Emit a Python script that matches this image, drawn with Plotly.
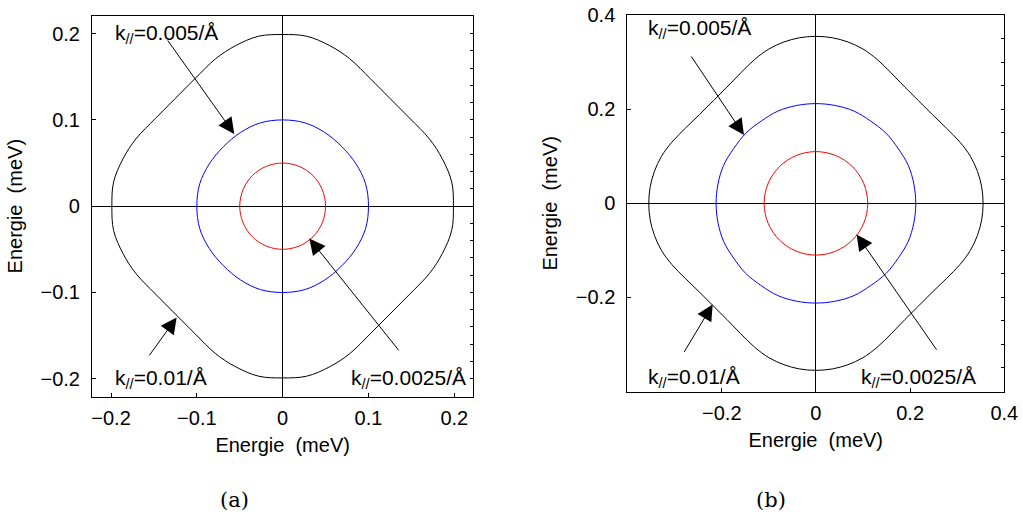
import plotly.graph_objects as go

# ---- data (meV) ----
# panel (a)
a_black_x = [-0.125,-0.148,-0.171,-0.186,-0.197,-0.199,-0.197,-0.186,-0.171,-0.148,-0.125,-0.102,-0.078,-0.055,-0.028,0,0.028,0.055,0.078,0.102,0.125,0.148,0.171,0.186,0.197,0.199,0.197,0.186,0.171,0.148,0.125,0.102,0.078,0.055,0.028,0,-0.028,-0.055,-0.078,-0.102,-0.125]
a_black_y = [0.125,0.102,0.078,0.055,0.028,0,-0.028,-0.055,-0.078,-0.102,-0.125,-0.148,-0.171,-0.186,-0.197,-0.199,-0.197,-0.186,-0.171,-0.148,-0.125,-0.102,-0.078,-0.055,-0.028,0,0.028,0.055,0.078,0.102,0.125,0.148,0.171,0.186,0.197,0.199,0.197,0.186,0.171,0.148,0.125]
a_blue_x = [-0.069,-0.0855,-0.0966,-0.1,-0.0966,-0.0855,-0.069,-0.049,-0.026,0,0.026,0.049,0.069,0.0855,0.0966,0.1,0.0966,0.0855,0.069,0.049,0.026,0,-0.026,-0.049,-0.069]
a_blue_y = [0.069,0.049,0.026,0,-0.026,-0.049,-0.069,-0.0855,-0.0966,-0.1,-0.0966,-0.0855,-0.069,-0.049,-0.026,0,0.026,0.049,0.069,0.0855,0.0966,0.1,0.0966,0.0855,0.069]
a_red_x = [-0.0354,-0.0462,-0.05,-0.0462,-0.0354,-0.0191,0,0.0191,0.0354,0.0462,0.05,0.0462,0.0354,0.0191,0,-0.0191,-0.0354]
a_red_y = [0.0354,0.0191,0,-0.0191,-0.0354,-0.0462,-0.05,-0.0462,-0.0354,-0.0191,0,0.0191,0.0354,0.0462,0.05,0.0462,0.0354]

# panel (b)
b_black_x = [-0.218,-0.247,-0.277,-0.306,-0.328,-0.343,-0.352,-0.355,-0.352,-0.343,-0.328,-0.306,-0.277,-0.247,-0.218,-0.189,-0.160,-0.130,-0.100,-0.068,-0.035,0,0.035,0.068,0.100,0.130,0.160,0.189,0.218,0.247,0.277,0.306,0.328,0.343,0.352,0.355,0.352,0.343,0.328,0.306,0.277,0.247,0.218,0.189,0.160,0.130,0.100,0.068,0.035,0,-0.035,-0.068,-0.100,-0.130,-0.160,-0.189,-0.218]
b_black_y = [0.218,0.189,0.160,0.130,0.100,0.068,0.035,0,-0.035,-0.068,-0.100,-0.130,-0.160,-0.189,-0.218,-0.247,-0.277,-0.306,-0.328,-0.343,-0.352,-0.355,-0.352,-0.343,-0.328,-0.306,-0.277,-0.247,-0.218,-0.189,-0.160,-0.130,-0.100,-0.068,-0.035,0,0.035,0.068,0.100,0.130,0.160,0.189,0.218,0.247,0.277,0.306,0.328,0.343,0.352,0.355,0.352,0.343,0.328,0.306,0.277,0.247,0.218]
b_blue_x = [-0.149,-0.175,-0.196,-0.208,-0.212,-0.208,-0.196,-0.175,-0.149,-0.116,-0.081,-0.041,0,0.041,0.081,0.116,0.149,0.175,0.196,0.208,0.212,0.208,0.196,0.175,0.149,0.116,0.081,0.041,0,-0.041,-0.081,-0.116,-0.149]
b_blue_y = [0.149,0.116,0.081,0.041,0,-0.041,-0.081,-0.116,-0.149,-0.175,-0.196,-0.208,-0.212,-0.208,-0.196,-0.175,-0.149,-0.116,-0.081,-0.041,0,0.041,0.081,0.116,0.149,0.175,0.196,0.208,0.212,0.208,0.196,0.175,0.149]
b_red_x = [-0.0778,-0.1016,-0.11,-0.1016,-0.0778,-0.0421,0,0.0421,0.0778,0.1016,0.11,0.1016,0.0778,0.0421,0,-0.0421,-0.0778]
b_red_y = [0.0778,0.0421,0,-0.0421,-0.0778,-0.1016,-0.11,-0.1016,-0.0778,-0.0421,0,0.0421,0.0778,0.1016,0.11,0.1016,0.0778]

a_ticks = [-0.2, -0.1, 0, 0.1, 0.2]
b_ticks = [-0.2, 0, 0.2, 0.4]
labels = ["k<sub>//</sub>=0.005/Å", "k<sub>//</sub>=0.01/Å", "k<sub>//</sub>=0.0025/Å"]

FONT = "Liberation Sans, Arial, Helvetica, sans-serif"
AX_TITLE = "Energie\u00a0 (meV)"

fig = go.Figure()

def curve(x, y, color, xa, ya):
    fig.add_trace(go.Scatter(x=x, y=y, mode="lines", xaxis=xa, yaxis=ya,
                             line=dict(color=color, width=1, shape="spline", smoothing=1.0),
                             showlegend=False, hoverinfo="skip"))

curve(a_black_x, a_black_y, "black", "x", "y")
curve(a_blue_x, a_blue_y, "#0000ff", "x", "y")
curve(a_red_x, a_red_y, "#ff0000", "x", "y")
curve(b_black_x, b_black_y, "black", "x2", "y2")
curve(b_blue_x, b_blue_y, "#0000ff", "x2", "y2")
curve(b_red_x, b_red_y, "#ff0000", "x2", "y2")

common = dict(showgrid=False, zeroline=True, zerolinecolor="black", zerolinewidth=1,
              showline=True, linecolor="black", linewidth=1, mirror=True,
              ticks="inside", ticklen=4, tickcolor="black", automargin=False,
              ticklabeloverflow="allow",
              tickfont=dict(family=FONT, size=20, color="black"))
tfont = dict(family=FONT, size=20, color="black")

fig.update_layout(
    width=1023, height=520,
    margin=dict(l=0, r=0, t=0, b=0),
    paper_bgcolor="white", plot_bgcolor="white",
    xaxis=dict(domain=[0.0899, 0.4627], range=[-0.2222, 0.2222], anchor="y",
               tickvals=a_ticks, ticklabelstandoff=3,
               title=dict(text=AX_TITLE, font=tfont, standoff=10), **common),
    yaxis=dict(domain=[0.2371, 0.9698], range=[-0.2208, 0.2208], anchor="x",
               tickvals=a_ticks, ticklabelstandoff=7,
               title=dict(text=AX_TITLE, font=tfont, standoff=12), **common),
    yaxis3=dict(overlaying="y", anchor="x", side="right", range=[-0.2208, 0.2208],
                tick0=0, dtick=0.02, ticks="inside", ticklen=3, tickcolor="black",
                showticklabels=False, showgrid=False, zeroline=False, showline=False,
                automargin=False),
    xaxis2=dict(domain=[0.6132, 0.9817], range=[-0.4006, 0.4], anchor="y2",
                tickvals=b_ticks, ticklabelstandoff=3,
                title=dict(text=AX_TITLE, font=tfont, standoff=10), **common),
    yaxis2=dict(domain=[0.2462, 0.9717], range=[-0.401, 0.401], anchor="x2",
                tickvals=b_ticks, ticklabelstandoff=7,
                title=dict(text=AX_TITLE, font=tfont, standoff=12), **common),
    yaxis4=dict(overlaying="y2", anchor="x2", side="right", range=[-0.401, 0.401],
                tick0=0, dtick=0.05, ticks="inside", ticklen=3, tickcolor="black",
                showticklabels=False, showgrid=False, zeroline=False, showline=False,
                automargin=False),
)
# invisible traces so the minor-tick axes render
fig.add_trace(go.Scatter(x=[None], y=[None], xaxis="x", yaxis="y3", showlegend=False, hoverinfo="skip"))
fig.add_trace(go.Scatter(x=[None], y=[None], xaxis="x2", yaxis="y4", showlegend=False, hoverinfo="skip"))

# arrows: (tip_x, tip_y, tail_x, tail_y)
a_arrows = [(-0.0564, 0.0837, -0.1352, 0.1939),
            (-0.1235, -0.1290, -0.1566, -0.1746),
            (0.0310, -0.0373, 0.1367, -0.1688)]
b_arrows = [(-0.1529, 0.1453, -0.2669, 0.3155),
            (-0.2193, -0.2149, -0.2817, -0.3191),
            (0.0864, -0.0660, 0.2584, -0.3143)]
for arrows, xr, yr in ((a_arrows, "x", "y"), (b_arrows, "x2", "y2")):
    for tx, ty, sx, sy in arrows:
        fig.add_annotation(x=tx, y=ty, ax=sx, ay=sy, xref=xr, yref=yr, axref=xr, ayref=yr,
                           text="", showarrow=True, arrowhead=2, arrowsize=3.2,
                           arrowwidth=1, arrowcolor="black")

# labels: (x, y, anchor)
a_lab = [(-0.1978, 0.1997, "left"), (-0.1978, -0.2003, "left"), (0.2156, -0.2003, "right")]
b_lab = [(-0.3609, 0.370, "left"), (-0.3609, -0.371, "left"), (0.3446, -0.371, "right")]
for labs, xr, yr in ((a_lab, "x", "y"), (b_lab, "x2", "y2")):
    for (lx, ly, anc), txt in zip(labs, labels):
        fig.add_annotation(x=lx, y=ly, xref=xr, yref=yr, text=txt, showarrow=False,
                           xanchor=anc, yanchor="middle",
                           font=dict(family=FONT, size=21, color="black"))

for cx, cap in ((0.2297, "(a)"), (0.7537, "(b)")):
    fig.add_annotation(x=cx, y=0.0385, xref="paper", yref="paper", text=cap, showarrow=False,
                       xanchor="center", yanchor="middle",
                       font=dict(family="DejaVu Serif, Liberation Serif, serif", size=21, color="black"))

fig.write_html("out.html", config={"displayModeBar": False},
               post_script="document.body.style.margin='0px';")
